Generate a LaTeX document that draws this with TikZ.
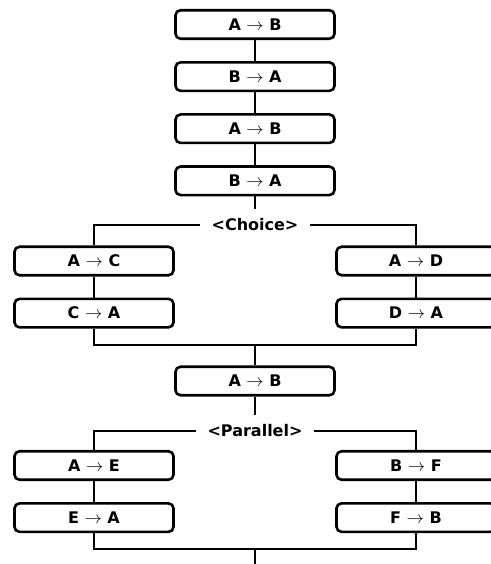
\documentclass[tikz,border=0pt]{standalone}
\usepackage{fontspec}
\setmainfont{DejaVu Sans}
\usetikzlibrary{positioning}

\begin{document}
\begin{tikzpicture}[
    x=1pt, y=-1pt,
    node distance=21pt,
    flowBox/.style={rectangle, draw, rounded corners=5pt, line width=2.6pt, minimum width=159pt, minimum height=28.5pt, inner sep=0pt, font=\fontsize{16}{19}\selectfont\bfseries},
    branchLabel/.style={fill=white, inner xsep=11pt, inner ysep=10pt, font=\fontsize{16}{19}\selectfont\bfseries},
    link/.style={line width=2.6pt}
]
    \useasboundingbox (0,0) rectangle (490,564);

    % main sequence
    \node[flowBox] (ab1) at (255,24.5) {A $\rightarrow$ B};
    \node[flowBox, below=of ab1] (ba1) {B $\rightarrow$ A};
    \node[flowBox, below=of ba1] (ab2) {A $\rightarrow$ B};
    \node[flowBox, below=of ab2] (ba2) {B $\rightarrow$ A};

    % choice block
    \node[branchLabel] (choice) at (255,225) {<Choice>};
    \node[flowBox] (ac) at (94,261) {A $\rightarrow$ C};
    \node[flowBox, below=of ac] (ca) {C $\rightarrow$ A};
    \node[flowBox] (ad) at (416,261) {A $\rightarrow$ D};
    \node[flowBox, below=of ad] (da) {D $\rightarrow$ A};
    \coordinate (choiceEnd) at (255,345);

    \node[flowBox] (ab3) at (255,381) {A $\rightarrow$ B};

    % parallel block
    \node[branchLabel] (parallel) at (255,431) {<Parallel>};
    \node[flowBox] (ae) at (94,465.5) {A $\rightarrow$ E};
    \node[flowBox, below=of ae] (ea) {E $\rightarrow$ A};
    \node[flowBox] (bf) at (416,465.5) {B $\rightarrow$ F};
    \node[flowBox, below=of bf] (fb) {F $\rightarrow$ B};
    \coordinate (parallelEnd) at (255,549);
    \coordinate (exit) at (255,566);

    \draw[link] (ab1) -- (ba1);
    \draw[link] (ba1) -- (ab2);
    \draw[link] (ab2) -- (ba2);
    \draw[link] (ba2) -- (choice);
    \draw[link] (choice.west) -- (ac |- choice.west) -- (ac);
    \draw[link] (choice.east) -- (ad |- choice.east) -- (ad);
    \draw[link] (ac) -- (ca);
    \draw[link] (ad) -- (da);
    \draw[link] (ca) -- (ca |- choiceEnd) -- (da |- choiceEnd) -- (da);
    \draw[link] (choiceEnd) -- (ab3);
    \draw[link] (ab3) -- (parallel);
    \draw[link] (parallel.west) -- (ae |- parallel.west) -- (ae);
    \draw[link] (parallel.east) -- (bf |- parallel.east) -- (bf);
    \draw[link] (ae) -- (ea);
    \draw[link] (bf) -- (fb);
    \draw[link] (ea) -- (ea |- parallelEnd) -- (fb |- parallelEnd) -- (fb);
    \draw[link] (parallelEnd) -- (exit);
\end{tikzpicture}
\end{document}
